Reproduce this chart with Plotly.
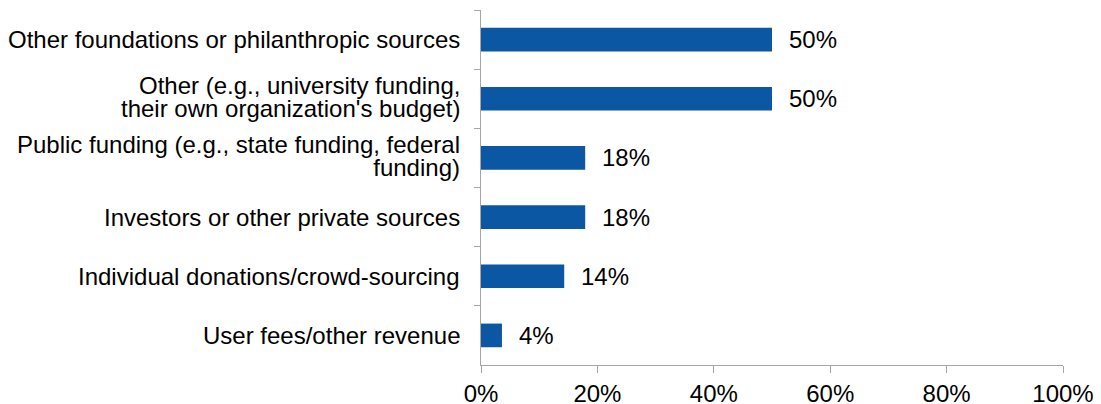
import plotly.graph_objects as go

categories = [
    "Other foundations or philanthropic sources",
    "Other (e.g., university funding,\ntheir own organization's budget)",
    "Public funding (e.g., state funding, federal\nfunding)",
    "Investors or other private sources",
    "Individual donations/crowd-sourcing",
    "User fees/other revenue",
]
values = [50.0, 50.0, 17.9, 17.9, 14.3, 3.6]
value_labels = ["50%", "50%", "18%", "18%", "14%", "4%"]
x_tick_vals = [0, 20, 40, 60, 80, 100]
x_tick_text = ["0%", "20%", "40%", "60%", "80%", "100%"]

FONT = "Liberation Sans, Arial, sans-serif"
FS = 24
AXIS = "#A6A6A6"
# base size whose 1.3em line spacing gives the tight ~22.7px line pitch
PITCH_BASE = 17.5

fig = go.Figure()
fig.add_trace(go.Bar(
    y=categories, x=values, orientation="h",
    marker=dict(color="#0B57A4", line=dict(width=0)),
    width=0.4, hoverinfo="skip",
))

# value labels
for c, v, t in zip(categories, values, value_labels):
    fig.add_annotation(x=v, y=c, text=t, showarrow=False, xanchor="left",
                       xshift=15, font=dict(family=FONT, size=FS, color="#000000"))

# category labels (right aligned, tight line spacing)
for c in categories:
    lines = c.split("\n")
    if len(lines) == 1:
        txt, size, ysh = lines[0], FS, 0
    else:
        txt = "<br>".join(f"<span style='font-size:{FS}px'>{ln}</span>" for ln in lines)
        size, ysh = PITCH_BASE, 2
    fig.add_annotation(x=0, xref="paper", y=c, yref="y", text=txt,
                       showarrow=False, xanchor="right", yanchor="middle",
                       align="right", xshift=-19, yshift=ysh,
                       font=dict(family=FONT, size=size, color="#000000"))

fig.update_layout(
    width=1093, height=396,
    margin=dict(l=473, r=38, t=2, b=39, autoexpand=False),
    paper_bgcolor="white", plot_bgcolor="white",
    showlegend=False,
    font=dict(family=FONT, size=FS, color="#000000"),
    bargap=0.6,
)
fig.update_xaxes(
    range=[0, 100], tickvals=x_tick_vals, ticktext=x_tick_text,
    showgrid=False, zeroline=False, automargin=False,
    showline=True, linecolor=AXIS, linewidth=1,
    ticks="outside", ticklen=7, tickcolor=AXIS, tickwidth=1,
    tickfont=dict(family=FONT, size=FS, color="#000000"),
)
fig.update_yaxes(
    autorange="reversed", categoryorder="array", categoryarray=categories,
    showgrid=False, zeroline=False, showticklabels=False, automargin=False,
    showline=True, linecolor=AXIS, linewidth=1,
    ticks="outside", tickson="boundaries", ticklen=6, tickcolor=AXIS, tickwidth=1,
)

fig.write_html("out.html")
